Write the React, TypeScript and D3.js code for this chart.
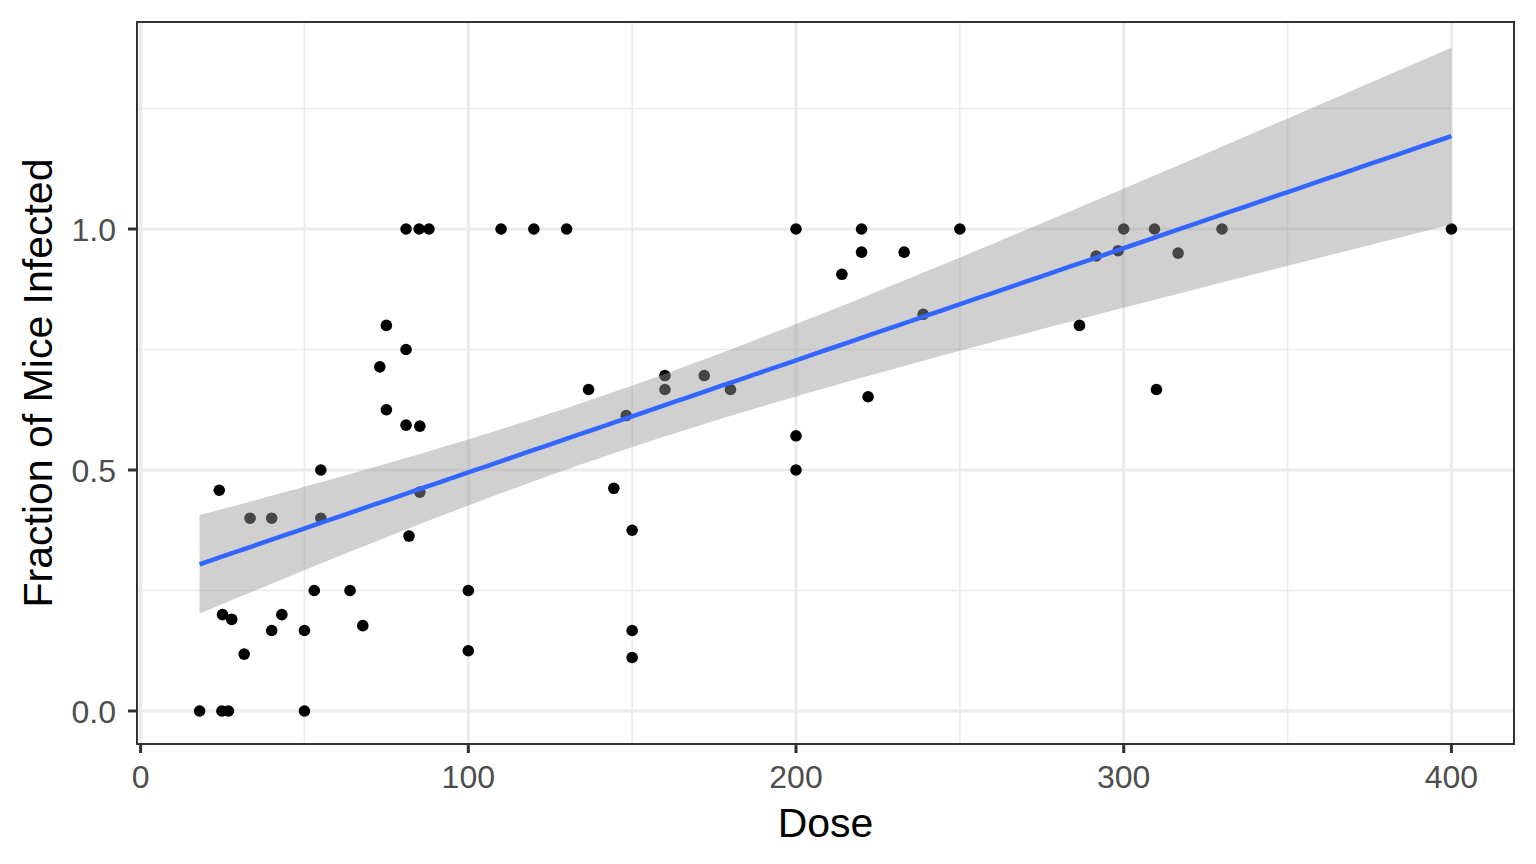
import React, { useEffect } from "react";
import * as d3 from "d3";

const WIDTH = 1536;
const HEIGHT = 864;

// dose and fraction of mice infected
const doses = [
  18, 24.8, 26.8, 50, 24, 25, 27.8, 31.6, 33.4, 40, 40, 43.1, 50, 53, 55, 55,
  63.9, 67.8, 73, 75, 75, 81, 81, 81, 81.9, 85, 85.2, 85.2, 88, 100, 100, 110,
  120, 130, 136.7, 144.4, 148.2, 150, 150, 150, 160, 160, 172, 180, 200, 200,
  200, 214, 220, 220, 222, 233, 238.8, 250, 286.5, 291.6, 298.3, 300, 309.4,
  310, 316.6, 330, 400,
];
const fractions = [
  0, 0, 0, 0, 0.458, 0.2, 0.19, 0.118, 0.4, 0.4, 0.167, 0.2, 0.167, 0.25, 0.5,
  0.4, 0.25, 0.177, 0.714, 0.8, 0.625, 0.75, 0.593, 1, 0.363, 1, 0.591, 0.454,
  1, 0.25, 0.125, 1, 1, 1, 0.667, 0.462, 0.613, 0.375, 0.167, 0.111, 0.696,
  0.667, 0.696, 0.667, 1, 0.571, 0.5, 0.906, 1, 0.952, 0.652, 0.952, 0.823, 1,
  0.8, 0.944, 0.955, 1, 1, 0.667, 0.95, 1, 1,
];

const xMajor = [0, 100, 200, 300, 400];
const xMinor = [50, 150, 250, 350];
const yMajor = [0, 0.5, 1.0];
const yMinor = [0.25, 0.75, 1.25];

const margin = { top: 22, right: 22, bottom: 120, left: 137 };

export default function App() {
  useEffect(() => {
    document.body.style.margin = "0";
  }, []);

  const pts = doses.map((d, i) => ({ x: d, y: fractions[i] }));

  // lm fit with 95% confidence band (like geom_smooth(method = "lm"))
  const n = pts.length;
  const mx = d3.mean(pts, (p) => p.x) as number;
  const my = d3.mean(pts, (p) => p.y) as number;
  const sxx = d3.sum(pts, (p) => (p.x - mx) ** 2);
  const sxy = d3.sum(pts, (p) => (p.x - mx) * (p.y - my));
  const slope = sxy / sxx;
  const icpt = my - slope * mx;
  const sse = d3.sum(pts, (p) => (p.y - icpt - slope * p.x) ** 2);
  const s = Math.sqrt(sse / (n - 2));
  const tq = 1.9996;
  const [xmin, xmax] = d3.extent(doses) as [number, number];
  const fit = d3.range(80).map((i) => {
    const x = xmin + ((xmax - xmin) * i) / 79;
    const yhat = icpt + slope * x;
    const se = s * Math.sqrt(1 / n + (x - mx) ** 2 / sxx);
    return { x, y: yhat, lo: yhat - tq * se, hi: yhat + tq * se };
  });

  const x = d3
    .scaleLinear()
    .domain([-1.1, 419.1])
    .range([margin.left, WIDTH - margin.right]);
  const y = d3
    .scaleLinear()
    .domain([-0.0685, 1.4295])
    .range([HEIGHT - margin.bottom, margin.top]);

  const line = d3
    .line<{ x: number; y: number }>()
    .x((d) => x(d.x))
    .y((d) => y(d.y));
  const band = d3
    .area<{ x: number; lo: number; hi: number }>()
    .x((d) => x(d.x))
    .y0((d) => y(d.lo))
    .y1((d) => y(d.hi));

  const [x0, x1] = x.range();
  const [y0, y1] = y.range();
  const font = "'Liberation Sans', Arial, Helvetica, sans-serif";

  return (
    <svg width={WIDTH} height={HEIGHT} style={{ display: "block" }} fontFamily={font}>
      <rect x={0} y={0} width={WIDTH} height={HEIGHT} fill="#ffffff" />

      {/* grid */}
      {xMinor.map((v) => (
        <line key={"xm" + v} x1={x(v)} x2={x(v)} y1={y1} y2={y0} stroke="#ebebeb" strokeWidth={1.6} />
      ))}
      {yMinor.map((v) => (
        <line key={"ym" + v} x1={x0} x2={x1} y1={y(v)} y2={y(v)} stroke="#ebebeb" strokeWidth={1.6} />
      ))}
      {xMajor.map((v) => (
        <line key={"xM" + v} x1={x(v)} x2={x(v)} y1={y1} y2={y0} stroke="#ebebeb" strokeWidth={3.2} />
      ))}
      {yMajor.map((v) => (
        <line key={"yM" + v} x1={x0} x2={x1} y1={y(v)} y2={y(v)} stroke="#ebebeb" strokeWidth={3.2} />
      ))}

      {/* points */}
      {pts.map((p, i) => (
        <circle key={i} cx={x(p.x)} cy={y(p.y)} r={5.8} fill="#000000" />
      ))}

      {/* smooth */}
      <path d={band(fit) as string} fill="#999999" fillOpacity={0.46} />
      <path d={line(fit) as string} fill="none" stroke="#3366FF" strokeWidth={4.5} />

      {/* panel border */}
      <rect x={x0} y={y1} width={x1 - x0} height={y0 - y1} fill="none" stroke="#333333" strokeWidth={2} />

      {/* x axis */}
      {xMajor.map((v) => (
        <g key={"xt" + v}>
          <line x1={x(v)} x2={x(v)} y1={y0} y2={y0 + 9} stroke="#333333" strokeWidth={3} />
          <text x={x(v)} y={788} textAnchor="middle" fontSize={32} fill="#4d4d4d">
            {v}
          </text>
        </g>
      ))}
      {/* y axis */}
      {yMajor.map((v) => (
        <g key={"yt" + v}>
          <line x1={x0 - 9} x2={x0} y1={y(v)} y2={y(v)} stroke="#333333" strokeWidth={3} />
          <text x={116} y={y(v) + 12} textAnchor="end" fontSize={32} fill="#4d4d4d">
            {d3.format(".1f")(v)}
          </text>
        </g>
      ))}

      <text x={(x0 + x1) / 2} y={836.5} textAnchor="middle" fontSize={41} fill="#000000">
        Dose
      </text>
      <text
        transform={`translate(52,${(y0 + y1) / 2}) rotate(-90)`}
        textAnchor="middle"
        fontSize={41}
        fill="#000000"
      >
        Fraction of Mice Infected
      </text>
    </svg>
  );
}
